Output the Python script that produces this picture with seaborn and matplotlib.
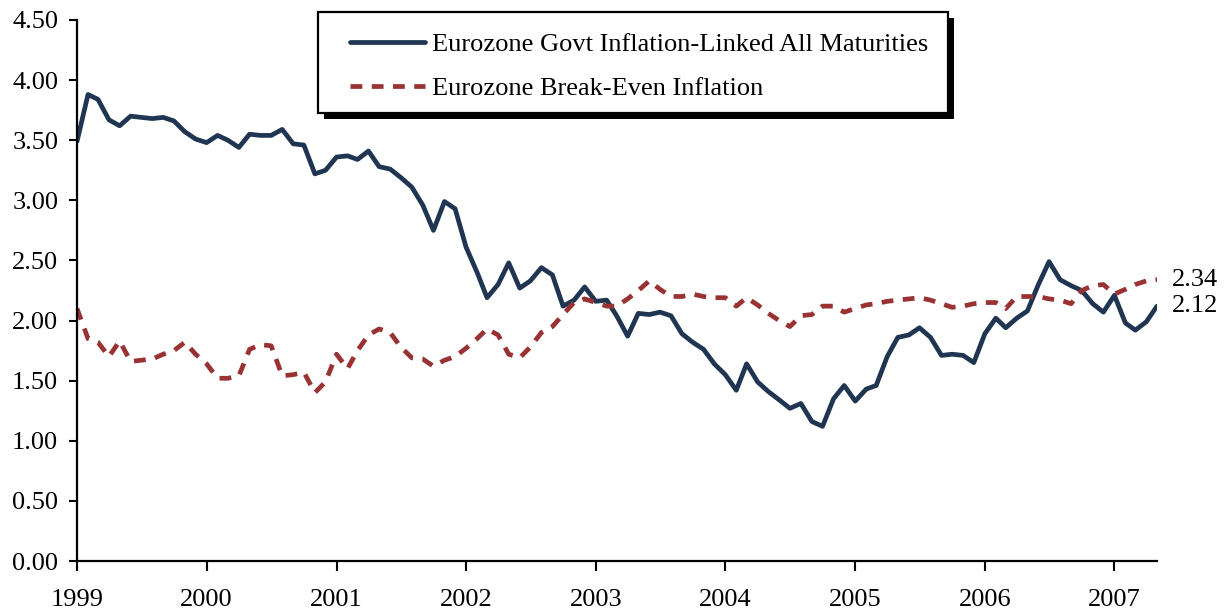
import numpy as np
import pandas as pd
import matplotlib
matplotlib.use("Agg")
import matplotlib.pyplot as plt
import matplotlib.patches as mpatches
import matplotlib.patheffects as pe
import seaborn as sns

# Monthly observations, January 1999 to May 2007
months = pd.date_range("1999-01-01", periods=101, freq="MS")

linked_yield = [
    3.49, 3.88, 3.84, 3.67, 3.62, 3.70, 3.69, 3.68, 3.69, 3.66, 3.57, 3.51,
    3.48, 3.54, 3.50, 3.44, 3.55, 3.54, 3.54, 3.59, 3.47, 3.46, 3.22, 3.25,
    3.36, 3.37, 3.34, 3.41, 3.28, 3.26, 3.19, 3.11, 2.96, 2.75, 2.99, 2.93,
    2.61, 2.40, 2.19, 2.30, 2.48, 2.27, 2.33, 2.44, 2.38, 2.12, 2.17, 2.28,
    2.16, 2.17, 2.04, 1.87, 2.06, 2.05, 2.07, 2.04, 1.89, 1.82, 1.76, 1.64,
    1.55, 1.42, 1.64, 1.49, 1.41, 1.34, 1.27, 1.31, 1.16, 1.12, 1.35, 1.46,
    1.33, 1.43, 1.46, 1.70, 1.86, 1.88, 1.94, 1.86, 1.71, 1.72, 1.71, 1.65,
    1.89, 2.02, 1.94, 2.02, 2.08, 2.30, 2.49, 2.34, 2.29, 2.25, 2.14, 2.07,
    2.21, 1.98, 1.92, 1.99, 2.12,
]

break_even = [
    2.10, 1.85, 1.82, 1.70, 1.83, 1.66, 1.67, 1.68, 1.72, 1.75, 1.82, 1.72,
    1.64, 1.52, 1.52, 1.54, 1.76, 1.80, 1.79, 1.54, 1.55, 1.57, 1.40, 1.49,
    1.72, 1.60, 1.75, 1.88, 1.93, 1.90, 1.78, 1.69, 1.68, 1.62, 1.67, 1.70,
    1.77, 1.85, 1.93, 1.88, 1.72, 1.69, 1.78, 1.90, 1.95, 2.05, 2.15, 2.18,
    2.15, 2.12, 2.12, 2.18, 2.25, 2.33, 2.26, 2.20, 2.20, 2.22, 2.20, 2.19,
    2.19, 2.12, 2.19, 2.13, 2.06, 2.00, 1.95, 2.04, 2.05, 2.12, 2.12, 2.07,
    2.10, 2.13, 2.14, 2.16, 2.17, 2.18, 2.19, 2.17, 2.14, 2.11, 2.12, 2.14,
    2.15, 2.15, 2.10, 2.20, 2.20, 2.20, 2.18, 2.17, 2.14, 2.25, 2.29, 2.30,
    2.22, 2.26, 2.30, 2.33, 2.34,
]

series_names = [
    "Eurozone Govt Inflation-Linked All Maturities",
    "Eurozone Break-Even Inflation",
]
series_colors = ["#1F3552", "#993333"]
y_ticks = np.arange(0, 4.51, 0.5)
year_ticks = list(range(1999, 2008))

sns.set_theme(style="white")
plt.rcParams["font.family"] = ["Liberation Serif", "DejaVu Serif"]
FS = 19
W, H = 1227, 616

df = pd.DataFrame({
    "date": months,
    series_names[0]: linked_yield,
    series_names[1]: break_even,
}).melt(id_vars="date", var_name="series", value_name="value")

fig = plt.figure(figsize=(W / 100, H / 100), dpi=100)
ax = fig.add_axes([77 / W, 55 / H, 1080 / W, 541 / H])

sns.lineplot(
    data=df, x="date", y="value", hue="series", style="series",
    hue_order=series_names, style_order=series_names,
    palette=series_colors, dashes=["", (2.5, 2.0)],
    linewidth=3.4, ax=ax,
)

# Axes ranges and ticks
ax.set_xlim(months[0], months[-1])
ax.set_ylim(0, 4.5)
ax.set_yticks(y_ticks)
ax.yaxis.set_major_formatter("{x:.2f}")
ax.set_xticks([pd.Timestamp(f"{y}-01-01") for y in year_ticks])
ax.set_xticklabels([str(y) for y in year_ticks])
ax.set_xlabel("")
ax.set_ylabel("")

sns.despine(ax=ax)
for side in ("left", "bottom"):
    ax.spines[side].set_color("black")
    ax.spines[side].set_linewidth(1.6)
ax.tick_params(axis="y", direction="out", length=5.5, width=1.5,
               color="black", labelsize=FS, labelcolor="black", pad=8, left=True)
ax.tick_params(axis="x", direction="out", length=7, width=1.5,
               color="black", labelsize=FS, labelcolor="black", pad=13, bottom=True)

# Legend: boxed panel with a solid drop shadow, entries placed inside it
handles, labels = ax.get_legend_handles_labels()
pairs = [(h, l) for h, l in zip(handles, labels) if l in series_names]
if ax.get_legend() is not None:
    ax.get_legend().remove()

panel = mpatches.Rectangle(
    (318 / W, 1 - 113 / H), 630 / W, 101 / H,
    transform=fig.transFigure, facecolor="white", edgecolor="black",
    linewidth=1.6, zorder=4,
)
panel.set_path_effects([
    pe.SimplePatchShadow(offset=(4, -4), shadow_rgbFace="black", alpha=1),
    pe.Normal(),
])
fig.patches.append(panel)

leg = fig.legend(
    [p[0] for p in pairs], [p[1] for p in pairs],
    loc="upper left", bbox_to_anchor=(350 / W, 1 - 33 / H),
    bbox_transform=fig.transFigure, borderaxespad=0, borderpad=0,
    fontsize=FS, handlelength=2.85, handletextpad=0.27,
    labelspacing=0.76, frameon=False,
)
leg.set_zorder(5)
for t in leg.get_texts():
    t.set_color("black")

# Latest values at the right end of each series
for vals in (break_even, linked_yield):
    ax.annotate(f"{vals[-1]:.2f}", xy=(months[-1], vals[-1]),
                xytext=(11, 0), textcoords="offset points",
                ha="left", va="center", fontsize=FS, color="black",
                annotation_clip=False)

fig.savefig("out.png", dpi=100)
